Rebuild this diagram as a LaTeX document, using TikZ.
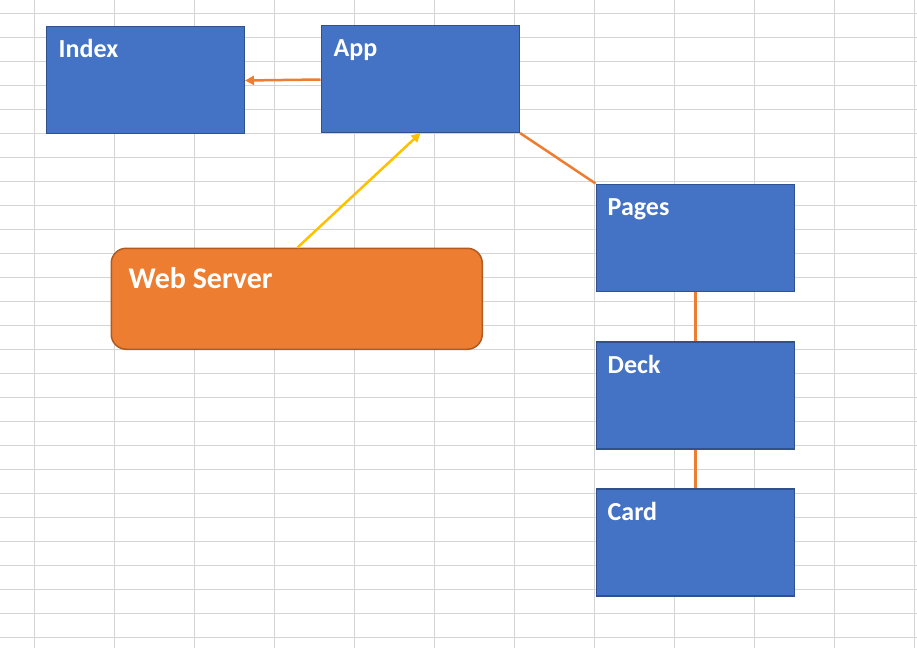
\documentclass[tikz,border=0pt]{standalone}
\usepackage{fontspec}
\setmainfont{Carlito}
\usetikzlibrary{arrows.meta}
\definecolor{boxblue}{HTML}{4472C4}
\definecolor{boxblueline}{HTML}{2F528F}
\definecolor{srvorange}{HTML}{ED7D31}
\definecolor{srvline}{HTML}{AE5A21}
\definecolor{linkorange}{HTML}{ED7D31}
\definecolor{linkyellow}{HTML}{FFC000}
\definecolor{gridgray}{HTML}{D4D4D4}
\begin{document}
\begin{tikzpicture}[x=1pt,y=-1pt,
  bluebox/.style={draw=boxblueline,fill=boxblue,line width=1.5pt,minimum width=198pt,minimum height=107pt,inner sep=0pt,anchor=north west},
  srvbox/.style={draw=srvline,fill=srvorange,line width=1.5pt,rounded corners=15pt,minimum width=371pt,minimum height=101pt,inner sep=0pt,anchor=north west},
  lbl/.style={text=white,font=\bfseries\fontsize{26}{30}\selectfont,anchor=base west,inner sep=0pt},
  biglbl/.style={text=white,font=\bfseries\fontsize{30}{34}\selectfont,anchor=base west,inner sep=0pt},
  link/.style={draw=linkorange,line width=2.5pt},
  tip/.style={-{Triangle[length=9pt,width=9pt]}}
]
\useasboundingbox (0,0) rectangle (917,648);
% grid
\foreach \gx in {34,114,...,914} \draw[gridgray,line width=1pt] (\gx,0) -- (\gx,648);
\foreach \gy in {13,37,...,637} \draw[gridgray,line width=1pt] (0,\gy) -- (917,\gy);
% boxes
\node[bluebox] (index) at (45.5,25.5) {};
\node[bluebox] (app) at (320.5,24.5) {};
\node[bluebox] (pages) at (595.5,183.5) {};
\node[bluebox] (deck) at (595.5,341) {};
\node[bluebox] (card) at (595.5,488) {};
\node[srvbox] (server) at (110.5,247.5) {};
% labels
\node[lbl] (indexT) at ([xshift=13pt,yshift=-32pt]index.north west) {Index};
\node[lbl] (appT) at ([xshift=13pt,yshift=-32pt]app.north west) {App};
\node[lbl] (pagesT) at ([xshift=12pt,yshift=-32pt]pages.north west) {Pages};
\node[lbl] (deckT) at ([xshift=12pt,yshift=-32pt]deck.north west) {Deck};
\node[lbl] (cardT) at ([xshift=12pt,yshift=-32pt]card.north west) {Card};
\node[biglbl] (serverT) at ([xshift=18pt,yshift=-41pt]server.north west) {Web Server};
% connectors
\coordinate (appW) at ([yshift=-55pt]app.north west);
\coordinate (indexE) at ([yshift=-55pt]index.north east);
\draw[link,tip] (appW) -- (indexE);
\coordinate (srvTop) at ([xshift=187pt]server.north west);
\coordinate (appBot) at ([xshift=100pt]app.south west);
\draw[draw=linkyellow,line width=2.5pt,tip] (srvTop) -- (appBot);
\draw[link] (app.south east) -- (pages.north west);
\draw[link] (pages.south) -- (deck.north);
\draw[link] (deck.south) -- (card.north);
\end{tikzpicture}
\end{document}
